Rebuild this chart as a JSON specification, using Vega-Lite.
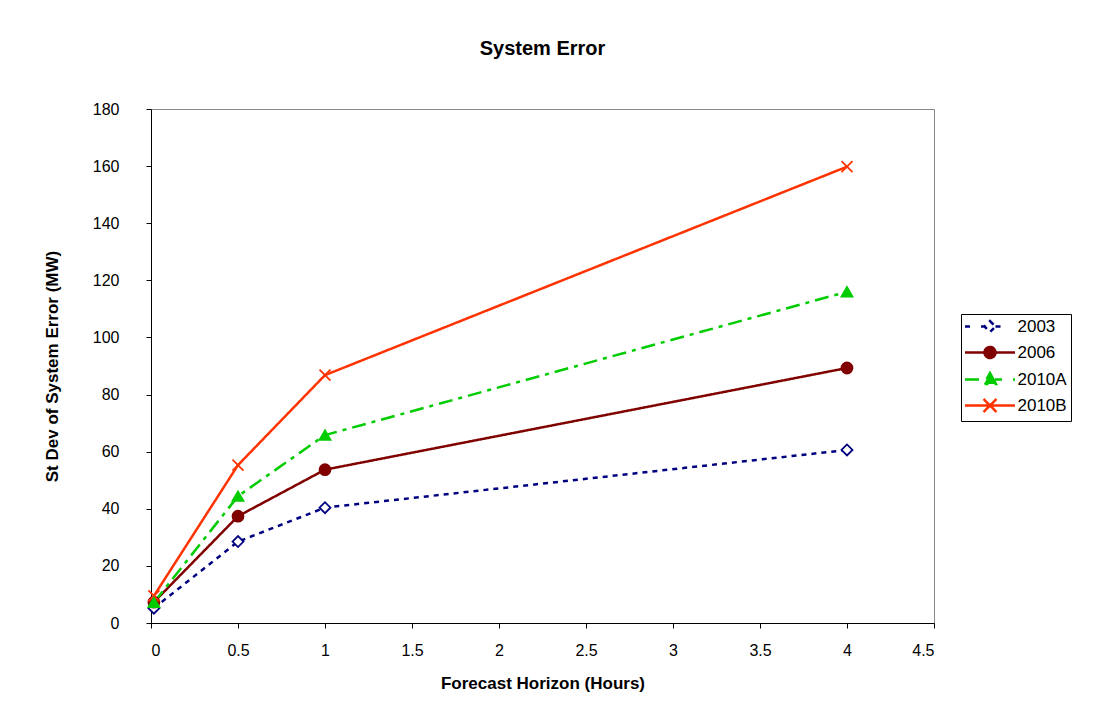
{
  "$schema": "https://vega.github.io/schema/vega-lite/v6.json",
  "width": 783,
  "height": 514,
  "autosize": "none",
  "padding": {"left": 151, "top": 109, "right": 175, "bottom": 81},
  "background": "white",
  "title": {
    "text": "System Error",
    "font": "Liberation Sans",
    "fontSize": 20,
    "fontWeight": "bold",
    "color": "#000000",
    "anchor": "middle",
    "offset": 42
  },
  "config": {
    "font": "Liberation Sans",
    "view": {"stroke": "#878787", "strokeWidth": 1},
    "axis": {
      "grid": false,
      "domainColor": "#000000",
      "domainWidth": 1,
      "tickColor": "#000000",
      "tickSize": 5,
      "labelColor": "#000000",
      "labelFont": "Liberation Sans",
      "labelFontSize": 16,
      "titleColor": "#000000",
      "titleFont": "Liberation Sans",
      "titleFontSize": 17,
      "titleFontWeight": "bold"
    }
  },
  "data": {
    "values": [
      {"series": "2003", "hours": 0.0167, "error": 5.2},
      {"series": "2003", "hours": 0.5, "error": 28.5},
      {"series": "2003", "hours": 1, "error": 40.4},
      {"series": "2003", "hours": 4, "error": 60.6},
      {"series": "2006", "hours": 0.0167, "error": 7.3},
      {"series": "2006", "hours": 0.5, "error": 37.4},
      {"series": "2006", "hours": 1, "error": 53.7},
      {"series": "2006", "hours": 4, "error": 89.3},
      {"series": "2010B", "hours": 0.0167, "error": 9.5},
      {"series": "2010B", "hours": 0.5, "error": 55.3},
      {"series": "2010B", "hours": 1, "error": 86.8},
      {"series": "2010B", "hours": 4, "error": 159.8},
      {"series": "2010A", "hours": 0.0167, "error": 7.2},
      {"series": "2010A", "hours": 0.5, "error": 44.4},
      {"series": "2010A", "hours": 1, "error": 65.8},
      {"series": "2010A", "hours": 4, "error": 116.0}
    ]
  },
  "encoding": {
    "x": {
      "field": "hours",
      "type": "quantitative",
      "scale": {"domain": [0, 4.5], "nice": false},
      "axis": {
        "title": "Forecast Horizon (Hours)",
        "values": [0, 0.5, 1, 1.5, 2, 2.5, 3, 3.5, 4, 4.5],
        "format": "~g",
        "labelPadding": 14,
        "titlePadding": 17
      }
    },
    "y": {
      "field": "error",
      "type": "quantitative",
      "scale": {"domain": [0, 180], "nice": false},
      "axis": {
        "title": "St Dev of System Error (MW)",
        "values": [0, 20, 40, 60, 80, 100, 120, 140, 160, 180],
        "labelPadding": 27,
        "titlePadding": 31
      }
    }
  },
  "resolve": {"legend": {"stroke": "independent", "shape": "independent", "fill": "independent", "strokeDash": "independent"}},
  "layer": [
    {
      "mark": {"type": "line", "strokeWidth": 2.5, "clip": false},
      "encoding": {
        "stroke": {
          "field": "series",
          "type": "nominal",
          "scale": {
            "domain": ["2003", "2006", "2010A", "2010B"],
            "range": ["#000080", "#800000", "#00cc00", "#ff3300"]
          },
          "legend": {
            "title": null,
            "orient": "none",
            "legendX": 810,
            "legendY": 205,
            "strokeColor": "#000000",
            "padding": 4,
            "labelFont": "Liberation Sans",
            "labelFontSize": 17,
            "labelColor": "#000000",
            "labelOffset": 19,
            "symbolOffset": 16.5,
            "symbolSize": 100,
            "symbolStrokeWidth": 2.5,
            "symbolOpacity": 1,
            "rowPadding": 5,
            "encoding": {
              "symbols": {
                "shape": {"value": {"expr": "datum.value === '2003' ? 'M-5,0L-4,0M-1.8,0L-1.1,0M1.1,0L2.8,0M0,-1.1L1.1,0L0,1.1L-1.1,0Z' : datum.value === '2006' ? 'M-5,0L5,0M-1.1,0A1.1,1.1 0 1,0 1.1,0A1.1,1.1 0 1,0 -1.1,0Z' : datum.value === '2010A' ? 'M-5,0L-1.4,0M1,0L2.4,0M4.6,0L5,0M0,-1.3L1.2,0.9L-1.2,0.9Z' : 'M-5,0L5,0M-1.3,-1.3L1.3,1.3M-1.3,1.3L1.3,-1.3'"}},
                "fill": {"value": {"expr": "datum.value === '2003' ? '#ffffff' : datum.value === '2006' ? '#800000' : datum.value === '2010A' ? '#00cc00' : 'transparent'"}},
                "strokeDash": {"value": []}
              }
            }
          }
        },
        "strokeDash": {
          "field": "series",
          "type": "nominal",
          "scale": {
            "domain": ["2003", "2006", "2010A", "2010B"],
            "range": [[5, 5], [1, 0], [14, 6, 4, 6], [1, 0]]
          },
          "legend": null
        }
      }
    },
    {
      "mark": {"type": "point", "filled": true, "size": 120, "strokeWidth": 1.8, "opacity": 1, "clip": false},
      "encoding": {
        "stroke": {"field": "series", "type": "nominal", "legend": null},
        "fill": {
          "field": "series",
          "type": "nominal",
          "scale": {
            "domain": ["2003", "2006", "2010A", "2010B"],
            "range": ["#ffffff", "#800000", "#00cc00", "transparent"]
          },
          "legend": null
        },
        "shape": {
          "field": "series",
          "type": "nominal",
          "scale": {
            "domain": ["2003", "2006", "2010A", "2010B"],
            "range": ["diamond", "circle", "triangle-up", "M-1,-1L1,1M-1,1L1,-1"]
          },
          "legend": null
        }
      }
    }
  ]
}
